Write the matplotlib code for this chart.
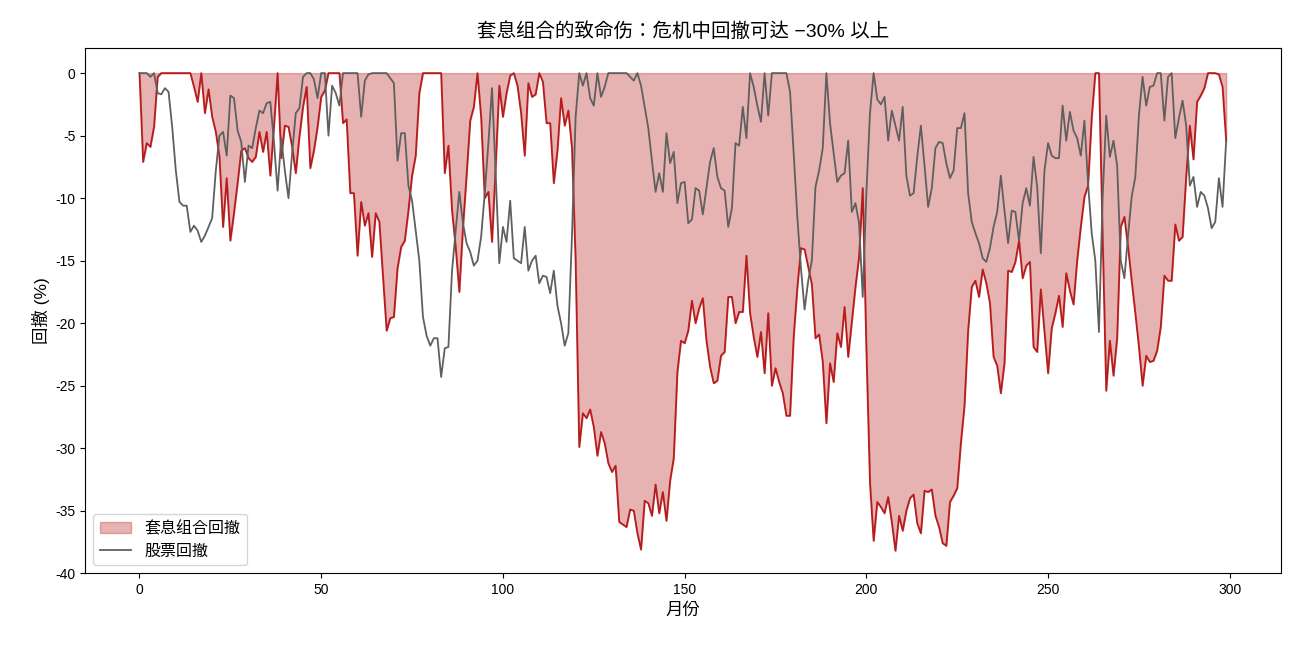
import numpy as np
import matplotlib
matplotlib.use("Agg")
import matplotlib.pyplot as plt

plt.rcParams['font.family'] = ['Liberation Sans', 'Noto Sans CJK JP', 'DejaVu Sans']
plt.rcParams['axes.unicode_minus'] = False

title = "套息组合的致命伤：危机中回撤可达 −30% 以上"
xlabel = "月份"
ylabel = "回撤 (%)"
carry_label = "套息组合回撤"
stock_label = "股票回撤"

carry_dd = [
    0, -7.1, -5.6, -5.9, -4.3, -0.3, 0, 0, 0, 0,
    0, 0, 0, 0, 0, -1.1, -2.3, 0, -3.2, -1.3,
    -3.5, -4.7, -6.7, -12.3, -8.4, -13.4, -11.2, -8.8, -6.2, -6.0,
    -6.8, -7.1, -6.7, -4.7, -6.3, -4.7, -8.2, -4.3, 0, -6.8,
    -4.2, -4.3, -5.9, -8.0, -5.1, -2.7, -1.1, -7.6, -6.2, -4.3,
    -1.9, -1.4, 0, 0, 0, 0, -4.0, -3.7, -9.6, -9.6,
    -14.6, -10.3, -12.2, -11.2, -14.7, -11.2, -11.9, -16.3, -20.6, -19.6,
    -19.5, -15.6, -13.9, -13.4, -11.0, -8.2, -6.6, -1.6, 0, 0,
    0, 0, 0, 0, -8.0, -5.8, -11.0, -13.9, -17.5, -12.4,
    -8.2, -3.8, -2.7, 0, -3.5, -10.0, -9.5, -13.5, -7.5, -1.0,
    -3.5, -1.6, -0.2, 0, -1.0, -3.2, -6.6, -0.8, -1.9, -1.7,
    0, -0.7, -4.0, -4.0, -8.8, -6.2, -2.0, -4.2, -3.0, -6.0,
    -15.0, -29.9, -27.2, -27.6, -26.9, -28.3, -30.6, -28.7, -29.6, -31.2,
    -31.9, -31.4, -35.9, -36.1, -36.3, -34.9, -35.0, -36.8, -38.1, -34.2,
    -34.4, -35.4, -32.9, -35.2, -33.5, -35.8, -32.6, -30.8, -23.9, -21.4,
    -21.6, -20.6, -18.2, -20.0, -18.8, -18.0, -21.4, -23.5, -24.8, -24.6,
    -22.6, -22.3, -17.9, -17.9, -20.0, -19.1, -19.1, -14.6, -19.2, -21.1,
    -22.7, -20.7, -24.0, -19.2, -25.0, -23.6, -24.7, -25.6, -27.4, -27.4,
    -21.1, -17.2, -14.0, -14.1, -15.5, -16.9, -21.2, -20.9, -23.1, -28.0,
    -23.2, -24.7, -20.8, -21.9, -18.7, -22.7, -19.9, -17.1, -14.7, -9.2,
    -22.0, -32.8, -37.4, -34.3, -34.7, -35.2, -33.9, -35.9, -38.2, -35.4,
    -36.6, -35.0, -34.0, -33.7, -36.0, -36.8, -33.4, -33.5, -33.3, -35.4,
    -36.3, -37.6, -37.8, -34.3, -33.8, -33.2, -29.6, -26.6, -20.6, -17.1,
    -16.6, -17.9, -15.7, -16.8, -18.4, -22.7, -23.4, -25.6, -23.2, -15.8,
    -15.9, -15.1, -13.4, -16.4, -15.4, -15.1, -21.9, -22.3, -17.3, -20.6,
    -24.0, -20.4, -19.2, -17.8, -20.3, -16.0, -17.4, -18.5, -15.0, -12.3,
    -9.9, -9.0, -3.6, 0, 0, -13.0, -25.4, -21.4, -24.2, -21.2,
    -12.3, -11.5, -13.9, -16.6, -19.2, -21.9, -25.0, -22.6, -23.1, -23.0,
    -22.2, -20.3, -16.2, -16.6, -16.6, -12.1, -13.4, -13.1, -8.3, -4.2,
    -6.9, -2.3, -1.8, -1.2, 0, 0, 0, -0.1, -1.1, -5.4,
]

stock_dd = [
    0, 0, 0, -0.3, 0, -1.6, -1.7, -1.2, -1.5, -4.3,
    -7.8, -10.3, -10.6, -10.6, -12.7, -12.2, -12.6, -13.5, -13.0, -12.3,
    -11.6, -7.8, -5.0, -4.7, -6.6, -1.8, -2.0, -4.6, -5.5, -8.7,
    -5.8, -6.0, -4.4, -3.0, -3.2, -2.4, -2.3, -5.5, -9.4, -5.2,
    -7.8, -10.0, -6.4, -3.2, -2.8, -0.3, 0, 0, -0.5, -2.0,
    0, 0, -5.0, -1.0, -1.6, -2.6, 0, 0, 0, 0,
    0, -3.5, -0.6, -0.1, 0, 0, 0, 0, 0, -0.4,
    -0.8, -7.0, -4.8, -4.8, -9.0, -10.2, -12.6, -15.0, -19.5, -21.0,
    -21.8, -21.2, -21.2, -24.3, -22.0, -21.9, -15.8, -12.6, -9.5, -12.0,
    -13.6, -14.3, -15.4, -15.0, -13.1, -9.6, -5.6, -1.2, -8.0, -15.2,
    -12.3, -13.5, -10.2, -14.8, -15.0, -15.2, -12.3, -15.8, -15.0, -14.6,
    -16.8, -16.2, -16.3, -17.6, -15.8, -18.6, -20.0, -21.8, -20.8, -13.0,
    -3.5, 0, -1.0, 0, -2.0, -2.6, 0, -1.9, -1.1, 0,
    0, 0, 0, 0, 0, -0.3, -0.6, 0, -1.0, -2.7,
    -4.4, -7.0, -9.5, -8.0, -9.5, -4.8, -7.2, -6.3, -10.4, -8.8,
    -8.7, -12.0, -11.7, -9.2, -9.4, -11.3, -9.2, -7.1, -6.0, -8.3,
    -9.2, -9.4, -12.3, -10.8, -5.6, -5.8, -2.7, -5.2, 0, -1.1,
    -2.6, -3.9, 0, -3.4, 0, 0, 0, 0, 0, -1.5,
    -6.4, -11.5, -15.6, -18.9, -16.6, -15.0, -9.1, -7.8, -6.0, 0,
    -4.0, -6.4, -8.7, -8.2, -8.0, -5.4, -11.1, -10.4, -12.0, -17.9,
    -9.6, -3.2, 0, -2.1, -2.5, -1.9, -5.4, -3.0, -4.2, -5.4,
    -2.7, -8.2, -9.8, -9.6, -6.7, -4.2, -7.4, -10.7, -9.2, -6.0,
    -5.5, -5.6, -7.2, -8.4, -7.8, -4.4, -4.4, -3.2, -9.6, -11.9,
    -12.8, -13.6, -14.8, -15.1, -14.0, -12.3, -11.1, -8.2, -11.0, -13.6,
    -11.0, -11.1, -13.4, -10.4, -9.2, -10.6, -6.7, -9.1, -14.4, -7.8,
    -5.6, -6.6, -6.8, -6.8, -2.6, -5.4, -3.1, -4.6, -5.2, -6.6,
    -3.8, -8.8, -12.8, -15.0, -20.7, -10.0, -3.4, -6.7, -5.4, -7.4,
    -15.0, -16.4, -13.0, -9.9, -8.3, -3.4, -0.3, -2.6, -1.1, -1.0,
    0, 0, -3.8, -0.3, 0, -5.2, -3.6, -2.2, -4.2, -9.0,
    -8.3, -10.7, -9.5, -9.8, -10.8, -12.4, -11.9, -8.4, -10.7, -5.4,
]

months = np.arange(len(carry_dd))

fig, ax = plt.subplots(figsize=(13, 6.5), dpi=100)
fig.subplots_adjust(left=0.0655, right=0.985, bottom=0.118, top=0.926)

ax.fill_between(months, carry_dd, 0, color='#BF2A2A', alpha=0.36,
                label=carry_label)
ax.plot(months, carry_dd, color='#B71C1C', lw=1.3)
ax.plot(months, stock_dd, color='#5F5F5F', lw=1.3, label=stock_label)

ax.set_ylim(-40, 2)
ax.set_yticks(np.arange(-40, 1, 5))
ax.set_xticks([0, 50, 100, 150, 200, 250, 300])
ax.set_title(title, fontsize=14, pad=8)
ax.set_xlabel(xlabel, fontsize=12.5)
ax.set_ylabel(ylabel, fontsize=12.5)
ax.tick_params(labelsize=10)
ax.legend(loc='lower left', fontsize=11.5)

fig.savefig("out.png", dpi=100)
